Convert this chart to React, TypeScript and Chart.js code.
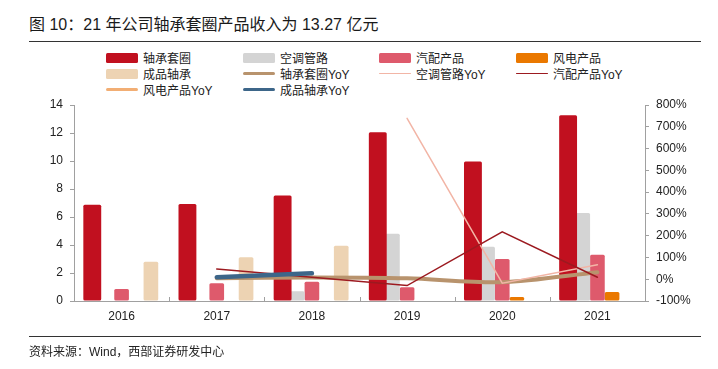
import React, { useEffect, useRef } from "react";
import { Chart, registerables } from "chart.js";

Chart.register(...registerables);

// ---------- data ----------
const categories = ["2016", "2017", "2018", "2019", "2020", "2021"];

// revenue (亿元), left axis
const bearingRing = [6.87, 6.92, 7.54, 12.05, 9.97, 13.27];
const acPipe = [null, null, 0.69, 4.8, 3.87, 6.28];
const autoParts = [0.86, 1.26, 1.38, 0.98, 3.0, 3.31];
const windPower = [null, null, null, null, 0.29, 0.64];
const finishedBearing = [2.81, 3.13, 3.94, null, null, null];

// YoY (%), right axis
const bearingRingYoY = [null, 4, 8, 4, -14, 32];
const acPipeYoY = [null, null, null, 739, -18, 66];
const autoPartsYoY = [null, 47, 9, -29, 218, 9];
const windPowerYoY = [null, null, null, null, null, 121];
const finishedBearingYoY = [null, 9, 27, null, null, null];

// axis ranges
const leftAxisRange = [0, 14, 2];
const rightAxisRange = [-100, 800, 100];

const titleText = "图 10：21 年公司轴承套圈产品收入为 13.27 亿元";
const sourceText = "资料来源：Wind，西部证券研发中心";

// ---------- styles ----------
const C_RING = "#C1101F";
const C_AC = "#D4D4D4";
const C_AUTO = "#DE5A6C";
const C_WIND = "#EA7800";
const C_FIN = "#EDD3B3";
const C_RING_YOY = "#B8936D";
const C_AC_YOY = "#F2B5A6";
const C_AUTO_YOY = "#9C1A20";
const C_WIND_YOY = "#F2AE74";
const C_FIN_YOY = "#3D6689";
const AXIS = "#A0A0A0";
const FONT = '"Liberation Sans", "Noto Sans CJK SC", sans-serif';

type LegendItem = { name: string; kind: "bar" | "line"; color: string; w?: number };
const legendRows: LegendItem[][] = [
  [
    { name: "轴承套圈", kind: "bar", color: C_RING },
    { name: "空调管路", kind: "bar", color: C_AC },
    { name: "汽配产品", kind: "bar", color: C_AUTO },
    { name: "风电产品", kind: "bar", color: C_WIND },
  ],
  [
    { name: "成品轴承", kind: "bar", color: C_FIN },
    { name: "轴承套圈YoY", kind: "line", color: C_RING_YOY, w: 3 },
    { name: "空调管路YoY", kind: "line", color: C_AC_YOY, w: 1 },
    { name: "汽配产品YoY", kind: "line", color: C_AUTO_YOY, w: 1.2 },
  ],
  [
    { name: "风电产品YoY", kind: "line", color: C_WIND_YOY, w: 3 },
    { name: "成品轴承YoY", kind: "line", color: C_FIN_YOY, w: 3 },
  ],
];
const legendColX = [106, 243, 379, 516];
const legendRowY = [57.5, 73.5, 89.5];

const xTickPlugin = {
  id: "xTickMarks",
  afterDraw(chart: any) {
    const x = chart.scales.x;
    const ctx = chart.ctx;
    const bottom = chart.chartArea.bottom;
    const n = categories.length;
    const w = (x.right - x.left) / n;
    ctx.save();
    ctx.strokeStyle = AXIS;
    ctx.lineWidth = 1;
    for (let i = 1; i < n; i++) {
      const px = Math.round(x.left + i * w) + 0.5;
      ctx.beginPath();
      ctx.moveTo(px, bottom);
      ctx.lineTo(px, bottom - 4);
      ctx.stroke();
    }
    ctx.restore();
  },
};

export default function App() {
  const ref = useRef<HTMLCanvasElement>(null);

  useEffect(() => {
    if (!ref.current) return;
    const bar = (label: string, data: any[], color: string, bp = 1.0) => ({
      type: "bar" as const,
      label,
      data,
      backgroundColor: color,
      yAxisID: "y",
      order: 2,
      barPercentage: bp,
      categoryPercentage: 0.77,
      borderRadius: 1.5,
      borderSkipped: false,
    });
    const line = (
      label: string,
      data: any[],
      color: string,
      width: number,
      order: number,
      tension = 0,
      cap: "round" | "butt" = "round"
    ) => ({
      type: "line" as const,
      label,
      data,
      borderColor: color,
      backgroundColor: color,
      borderWidth: width,
      pointRadius: 0,
      pointHoverRadius: 0,
      tension,
      yAxisID: "y1",
      order,
      borderCapStyle: cap,
    });

    const chart = new Chart(ref.current, {
      type: "bar",
      data: {
        labels: categories,
        datasets: [
          bar("轴承套圈", bearingRing, C_RING, 1.22),
          bar("空调管路", acPipe, C_AC),
          bar("汽配产品", autoParts, C_AUTO),
          bar("风电产品", windPower, C_WIND),
          bar("成品轴承", finishedBearing, C_FIN),
          line("成品轴承YoY", finishedBearingYoY, C_FIN_YOY, 4.5, 0),
          line("汽配产品YoY", autoPartsYoY, C_AUTO_YOY, 1.5, 1),
          line("空调管路YoY", acPipeYoY, C_AC_YOY, 1.5, 1),
          line("轴承套圈YoY", bearingRingYoY, C_RING_YOY, 4, 1, 0.3),
          line("风电产品YoY", windPowerYoY, C_WIND_YOY, 4, 1, 0, "butt"),
        ] as any,
      },
      options: {
        animation: false,
        responsive: false,
        maintainAspectRatio: false,
        layout: { padding: { top: 105, left: 0, right: 0, bottom: 0 } },
        plugins: {
          legend: { display: false },
          tooltip: { enabled: false },
          title: { display: false },
        },
        scales: {
          x: {
            offset: true,
            grid: { display: false, drawTicks: false },
            border: { display: true, color: AXIS, width: 1 },
            ticks: {
              color: "#222",
              font: { family: FONT, size: 12 },
              padding: 8,
            },
            afterFit: (s: any) => {
              s.height = 68;
            },
          },
          y: {
            position: "left",
            min: leftAxisRange[0],
            max: leftAxisRange[1],
            grid: { drawOnChartArea: false, drawTicks: true, tickLength: 4, color: AXIS },
            border: { display: true, color: AXIS, width: 1 },
            ticks: {
              stepSize: leftAxisRange[2],
              color: "#222",
              font: { family: FONT, size: 12 },
              padding: 7,
            },
            afterFit: (s: any) => {
              s.width = 74;
            },
          },
          y1: {
            position: "right",
            min: rightAxisRange[0],
            max: rightAxisRange[1],
            grid: { drawOnChartArea: false, drawTicks: true, tickLength: 4, color: AXIS },
            border: { display: true, color: AXIS, width: 1 },
            ticks: {
              stepSize: rightAxisRange[2],
              color: "#222",
              font: { family: FONT, size: 12 },
              padding: 7,
              callback: (v: any) => `${v}%`,
            },
            afterFit: (s: any) => {
              s.width = 73;
            },
          },
        },
      } as any,
      plugins: [xTickPlugin],
    });
    return () => chart.destroy();
  }, []);

  return (
    <div
      style={{
        position: "fixed",
        left: 0,
        top: 0,
        width: 718,
        height: 369,
        background: "#fff",
        fontFamily: FONT,
        color: "#222",
      }}
    >
      <div
        style={{
          position: "absolute",
          left: 29,
          top: 15,
          fontSize: 16,
          lineHeight: "20px",
          whiteSpace: "nowrap",
          color: "#1a1a1a",
        }}
      >
        {titleText}
      </div>
      <div style={{ position: "absolute", left: 29, width: 672, top: 41, height: 0, borderTop: "1.3px solid #333" }} />
      {legendRows.map((row, ri) =>
        row.map((it, ci) => (
          <div
            key={`${ri}-${ci}`}
            style={{
              position: "absolute",
              left: legendColX[ci],
              top: legendRowY[ri] - 8,
              height: 16,
              display: "flex",
              alignItems: "center",
              whiteSpace: "nowrap",
              fontSize: 12,
            }}
          >
            <div style={{ width: 32, height: 10, display: "flex", alignItems: "center", marginRight: 5 }}>
              {it.kind === "bar" ? (
                <div style={{ width: 32, height: 10, background: it.color, borderRadius: 1.5 }} />
              ) : (
                <div style={{ width: 32, height: it.w, background: it.color, borderRadius: 2 }} />
              )}
            </div>
            <span>{it.name}</span>
          </div>
        ))
      )}
      <canvas
        ref={ref}
        width={718}
        height={369}
        style={{ position: "absolute", left: 0, top: 0, width: 718, height: 369 }}
      />
      <div style={{ position: "absolute", left: 29, width: 672, top: 336, height: 0, borderTop: "1.3px solid #333" }} />
      <div
        style={{
          position: "absolute",
          left: 29,
          top: 344,
          fontSize: 12,
          lineHeight: "16px",
          whiteSpace: "nowrap",
        }}
      >
        {sourceText}
      </div>
    </div>
  );
}
